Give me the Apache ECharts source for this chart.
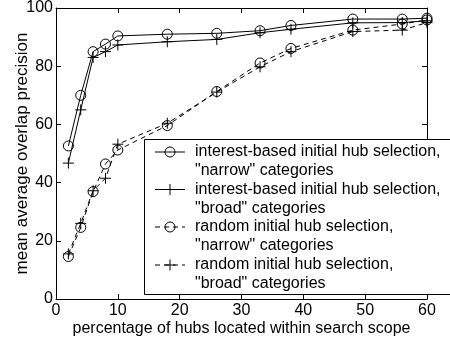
<!DOCTYPE html>
<html><head><meta charset="utf-8">
<script src="https://cdn.jsdelivr.net/npm/echarts@6/dist/echarts.min.js"></script>
<style>html,body{margin:0;padding:0;background:#fff}#c{width:450px;height:339px}</style>
</head><body><div id="c"></div>
<script>
var xValues = [2, 4, 6, 8, 10, 18, 26, 33, 38, 48, 56, 60];
var interestNarrow = [52.6, 70, 85, 87.6, 90.4, 91, 91.3, 92.2, 94, 96.2, 96.2, 96.5];
var interestBroad = [46.7, 65, 83, 85, 87.3, 88.4, 89.2, 91.5, 92.7, 94.9, 95, 95.6];
var randomNarrow = [14.6, 24.6, 36.9, 46.4, 51.2, 59.6, 71.3, 81.1, 86.1, 92.4, 94.5, 95.9];
var randomBroad = [15.5, 26, 37.2, 41.5, 53.2, 60.4, 71.1, 79.8, 85, 91.9, 92.4, 95];
var seriesNames = [
  'interest-based initial hub selection,\n"narrow" categories',
  'interest-based initial hub selection,\n"broad" categories',
  'random initial hub selection,\n"narrow" categories',
  'random initial hub selection,\n"broad" categories'
];
var xTicks = [0, 10, 20, 30, 40, 50, 60];
var yTicks = [0, 20, 40, 60, 80, 100];

var FONT = '"Liberation Sans", Arial, sans-serif';
var PLUS = 'path://M5,0L5,10M0,5L10,5';
function pairs(ys){ return xValues.map(function(x,i){ return [x, ys[i]]; }); }
function mkSeries(name, ys, sym, size, dashed){
  return {
    name: name, type: 'line', data: pairs(ys), symbol: sym, symbolSize: size, symbolKeepAspect: true,
    lineStyle: {color: '#000', width: 1, type: dashed ? [5, 4] : 'solid'},
    itemStyle: {color: 'rgba(0,0,0,0)', borderColor: '#000', borderWidth: 1},
    animation: false, z: 3
  };
}
var chart = echarts.init(document.getElementById('c'), null, {renderer: 'canvas'});
var axisBase = {
  type: 'value', splitLine: {show: false},
  axisLine: {show: true, onZero: false, lineStyle: {color: '#000', width: 1}},
  axisTick: {show: true, inside: true, length: 5, lineStyle: {color: '#000'}}
};
// legend graphic
var lg = [];
var LX = 144.5, LY = 139.5;
lg.push({type: 'rect', shape: {x: LX, y: LY, width: 320, height: 155}, style: {fill: '#fff', stroke: '#000', lineWidth: 1}, z: 10});
var rowY = [152, 189.5, 227, 265];
var syms = ['circle', 'plus', 'circle', 'plus'];
var dashes = [false, false, true, true];
seriesNames.forEach(function(n, i){
  var y = rowY[i];
  lg.push({type: 'line', shape: {x1: 155, y1: y, x2: 185, y2: y}, style: {stroke: '#000', lineWidth: 1, lineDash: dashes[i] ? [5, 4] : null}, z: 11});
  if (syms[i] === 'circle') {
    lg.push({type: 'circle', shape: {cx: 170, cy: y, r: 5}, style: {fill: 'rgba(0,0,0,0)', stroke: '#000', lineWidth: 1}, z: 12});
  } else {
    lg.push({type: 'line', shape: {x1: 170, y1: y - 5.5, x2: 170, y2: y + 5.5}, style: {stroke: '#000', lineWidth: 1}, z: 12});
    lg.push({type: 'line', shape: {x1: 164.5, y1: y, x2: 175.5, y2: y}, style: {stroke: '#000', lineWidth: 1}, z: 12});
  }
  var lines = n.split('\n');
  lines.forEach(function(t, j){
    lg.push({type: 'text', x: 195, y: y + j * 18.8, style: {text: t, font: '16px ' + FONT, fill: '#000', verticalAlign: 'middle', align: 'left'}, z: 12});
  });
});

chart.setOption({
  backgroundColor: '#fff',
  animation: false,
  grid: {left: 56, right: 23, top: 8, bottom: 40, containLabel: false, outerBoundsMode: 'none'},
  xAxis: [
    Object.assign({}, axisBase, {min: 0, max: 60, interval: 10, position: 'bottom',
      axisLabel: {color: '#000', fontSize: 16, fontFamily: FONT, margin: 4, formatter: function(v){ return xTicks.indexOf(v) >= 0 ? String(v) : ''; }},
      name: 'percentage of hubs located within search scope', nameLocation: 'middle', nameGap: 22, nameMoveOverlap: false,
      nameTextStyle: {color: '#000', fontSize: 16, fontFamily: FONT}}),
    Object.assign({}, axisBase, {min: 0, max: 60, interval: 10, position: 'top', axisLabel: {show: false}})
  ],
  yAxis: [
    Object.assign({}, axisBase, {min: 0, max: 100, interval: 20, position: 'left',
      axisLabel: {color: '#000', fontSize: 16, fontFamily: FONT, margin: 3, formatter: function(v){ return yTicks.indexOf(v) >= 0 ? String(v) : ''; }},
      name: 'mean average overlap precision', nameLocation: 'middle', nameGap: 25, nameMoveOverlap: false,
      nameTextStyle: {color: '#000', fontSize: 17, fontFamily: FONT}}),
    Object.assign({}, axisBase, {min: 0, max: 100, interval: 20, position: 'right', axisLabel: {show: false}})
  ],
  series: [
    mkSeries(seriesNames[0], interestNarrow, 'circle', 10, false),
    mkSeries(seriesNames[1], interestBroad, PLUS, 11, false),
    mkSeries(seriesNames[2], randomNarrow, 'circle', 10, true),
    mkSeries(seriesNames[3], randomBroad, PLUS, 11, true)
  ],
  graphic: lg
});
</script></body></html>
